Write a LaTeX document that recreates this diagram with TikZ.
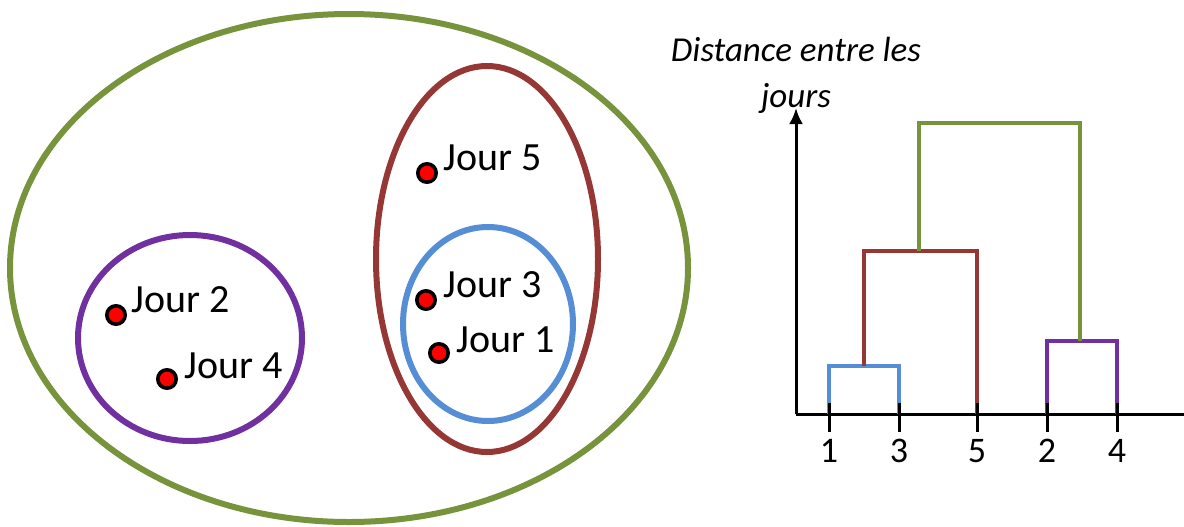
\documentclass[tikz,border=0pt]{standalone}
\usepackage{fontspec}
\setmainfont{Carlito}
\usetikzlibrary{arrows.meta,calc}
\definecolor{cgreen}{HTML}{77933C}
\definecolor{cbrown}{HTML}{953735}
\definecolor{cblue}{HTML}{558ED5}
\definecolor{cpurple}{HTML}{7030A0}
\tikzset{
  clus/.style={line width=3pt},
  dendro/.style={line width=2pt},
  dot/.style={circle,draw=black,fill=red,line width=1.8pt,minimum size=9.2pt,inner sep=0pt},
  jour/.style={anchor=west,inner sep=0pt,font=\fontsize{20}{24}\selectfont},
  axis/.style={line width=1.5pt},
  tick/.style={line width=1.5pt},
  tlab/.style={font=\fontsize{18}{22}\selectfont,inner sep=0pt},
}
\begin{document}
\begin{tikzpicture}[x=0.5pt,y=-0.5pt]
\useasboundingbox (0,0) rectangle (1184,526);
% clusters
\draw[clus,cgreen] (349,268) ellipse [x radius=169.5pt,y radius=127pt];
\draw[clus,cpurple] (190,338) ellipse [x radius=56pt,y radius=51.5pt];
\draw[clus,cbrown] (487,259) ellipse [x radius=55.5pt,y radius=96.5pt];
\draw[clus,cblue] (488,324) ellipse [x radius=42.5pt,y radius=48.5pt];
% points
\node[dot] (p5) at (427,173) {};
\node[dot] (p3) at (426,300) {};
\node[dot] (p1) at (439,353) {};
\node[dot] (p2) at (116,315) {};
\node[dot] (p4) at (167,379) {};
\node[jour] (l5) at (443,158) {Jour 5};
\node[jour] (l3) at (443,285) {Jour 3};
\node[jour] (l1) at (456,340) {Jour 1};
\node[jour] (l2) at (131,300) {Jour 2};
\node[jour] (l4) at (184,366) {Jour 4};
% axes
\coordinate (o) at (796,414);
\coordinate (ytop) at (796,108);
\coordinate (xend) at (1184,414);
\draw[axis,-{Latex[length=8pt,width=7pt]}] (o) -- (ytop);
\draw[axis] (o) -- (xend);
\node[font=\fontsize{17.5}{21}\itshape\selectfont,align=center] (ylab) at (796,75) {Distance entre les\\[2pt]jours};
% leaves
\coordinate (a1) at (829,414);
\coordinate (a3) at (899,414);
\coordinate (a5) at (977,414);
\coordinate (a2) at (1047,414);
\coordinate (a4) at (1117,414);
% dendrogram
\coordinate (m13) at (864,366);
\coordinate (m135) at (919,251);
\coordinate (m24) at (1080,341);
\draw[dendro,cblue] (a1) |- (m13) -| (a3);
\draw[dendro,cbrown] (m13) |- (m135) -| (a5);
\draw[dendro,cpurple] (a2) |- (m24) -| (a4);
\draw[dendro,cgreen] (m135) |- (1080,123) -- (m24);
% ticks and labels
\foreach \n in {1,3,5,2,4}{
  \draw[tick] ($(a\n)+(0,-11)$) -- ($(a\n)+(0,18)$);
  \node[tlab] (t\n) at ($(a\n)+(0,37)$) {\n};
}
\end{tikzpicture}
\end{document}
